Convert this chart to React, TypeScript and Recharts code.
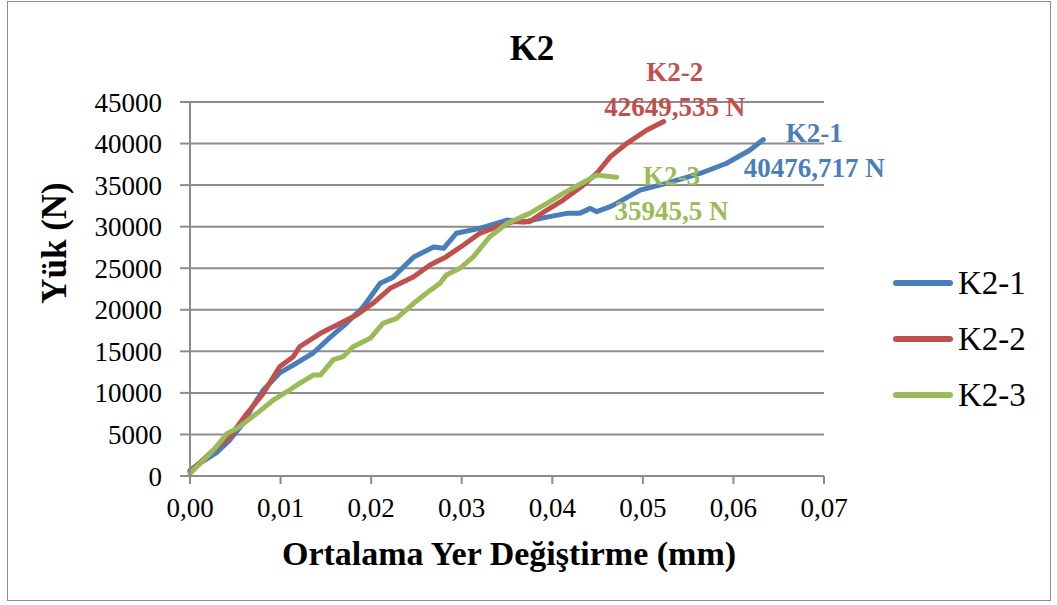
import React from 'react';
import {CartesianGrid, Line, LineChart, XAxis, YAxis} from 'recharts';

const xTicks = [0, 0.01, 0.02, 0.03, 0.04, 0.05, 0.06, 0.07];
const yTicks = [0, 5000, 10000, 15000, 20000, 25000, 30000, 35000, 40000, 45000];

const k21X = [0, 0.0011, 0.0022, 0.0029, 0.0044, 0.0059, 0.007, 0.0081, 0.0099, 0.0118, 0.0136, 0.0155, 0.0173, 0.0191, 0.021, 0.0224, 0.0247, 0.0269, 0.028, 0.0294, 0.032, 0.035, 0.0368, 0.0394, 0.0416, 0.043, 0.0442, 0.0449, 0.0464, 0.0471, 0.0497, 0.0526, 0.0563, 0.0592, 0.0618, 0.0633];
const k21Y = [700, 1560, 2300, 2770, 4330, 6380, 8500, 10350, 12400, 13600, 14800, 16700, 18400, 20300, 23200, 23900, 26350, 27550, 27400, 29200, 29800, 30800, 30550, 31150, 31600, 31600, 32200, 31800, 32400, 32800, 34400, 35200, 36400, 37600, 39200, 40476.717];

const k22X = [0, 0.0026, 0.0044, 0.0063, 0.0081, 0.0099, 0.0114, 0.0121, 0.0144, 0.0166, 0.0184, 0.0202, 0.0221, 0.0247, 0.0265, 0.0283, 0.0302, 0.032, 0.0339, 0.0357, 0.0375, 0.0394, 0.0412, 0.0432, 0.0449, 0.0464, 0.0482, 0.0504, 0.0523];
const k22Y = [500, 3130, 4730, 7540, 9950, 13150, 14350, 15550, 17170, 18370, 19370, 20780, 22580, 23980, 25390, 26390, 27790, 29200, 29990, 30600, 30600, 32000, 33200, 34800, 36400, 38400, 40000, 41600, 42649.535];

const k23X = [0, 0.0026, 0.0041, 0.0052, 0.0074, 0.0092, 0.0107, 0.0121, 0.0136, 0.0144, 0.0158, 0.0169, 0.018, 0.0199, 0.0213, 0.0228, 0.0247, 0.0261, 0.0276, 0.0283, 0.0298, 0.0313, 0.0331, 0.035, 0.0375, 0.0394, 0.0412, 0.0432, 0.0449, 0.0471];
const k23Y = [300, 3130, 5130, 5730, 7540, 9140, 10140, 11150, 12150, 12150, 13960, 14350, 15550, 16560, 18370, 18970, 20780, 21980, 23180, 24180, 24990, 26390, 28790, 30390, 31600, 32800, 34000, 35200, 36200, 35945.5];

const seriesNames = ['K2-1', 'K2-2', 'K2-3'];
const seriesColors = ['#4A7EBB', '#C0504D', '#9BBB59'];
const peakLabels = ['40476,717 N', '42649,535 N', '35945,5 N'];

const toRows = (xs: number[], ys: number[]) => xs.map((x, i) => ({x, y: ys[i]}));
const seriesData = [toRows(k21X, k21Y), toRows(k22X, k22Y), toRows(k23X, k23Y)];

// where the Excel data labels were dragged to, relative to the last point
const labelShift = [
    {dx: 51, dy: -7},
    {dx: 11, dy: -50},
    {dx: 55, dy: -1},
];

const font = "'Liberation Serif', 'Times New Roman', serif";
const gridColor = '#8C8C8C';

const fmt = (v: number) => v.toFixed(2).replace('.', ',');

const makeEndLabel = (s: number) => (props: any) => {
    const {x, y, index} = props;
    if (index !== seriesData[s].length - 1) return null;
    const cx = x + labelShift[s].dx;
    const cy = y + labelShift[s].dy;
    return (
        <g key={`lbl-${s}`}>
            <text x={cx} y={cy} textAnchor="middle" dominantBaseline="central"
                  fontFamily={font} fontWeight="bold" fontSize={27} fill={seriesColors[s]}>
                {seriesNames[s]}
            </text>
            <text x={cx} y={cy + 35} textAnchor="middle" dominantBaseline="central"
                  fontFamily={font} fontWeight="bold" fontSize={27} fill={seriesColors[s]}>
                {peakLabels[s]}
            </text>
        </g>
    );
};

const App = () => {
    return (
        <div style={{position: 'absolute', left: 0, top: 0, width: 1057, height: 605, background: '#fff', fontFamily: font}}>
            <div style={{position: 'absolute', left: 7, top: 1, width: 1042, height: 598, border: '1px solid #8C8C8C'}}/>
            <div style={{position: 'absolute', left: 532, top: 49, transform: 'translate(-50%, -50%)', fontSize: 35, fontWeight: 'bold', whiteSpace: 'nowrap'}}>
                K2
            </div>
            <LineChart
                width={1057}
                height={605}
                margin={{top: 102, right: 233, left: 0, bottom: 99}}
            >
                <CartesianGrid horizontal vertical={false} stroke={gridColor} strokeWidth={2}/>
                <XAxis
                    dataKey="x"
                    type="number"
                    domain={[0, 0.07]}
                    ticks={xTicks}
                    tickFormatter={fmt}
                    height={30}
                    allowDuplicatedCategory={false}
                    stroke={gridColor}
                    strokeWidth={2}
                    tickSize={8}
                    tickMargin={14}
                    tick={{fill: '#000', fontSize: 27, fontFamily: font}}
                />
                <YAxis
                    type="number"
                    domain={[0, 45000]}
                    ticks={yTicks}
                    width={190}
                    stroke={gridColor}
                    strokeWidth={2}
                    tickSize={10}
                    tickMargin={18}
                    tick={{fill: '#000', fontSize: 27, fontFamily: font}}
                />
                {seriesData.map((d, s) => (
                    <Line
                        key={seriesNames[s]}
                        data={d}
                        dataKey="y"
                        name={seriesNames[s]}
                        type="linear"
                        stroke={seriesColors[s]}
                        strokeWidth={5}
                        strokeLinecap="round"
                        strokeLinejoin="round"
                        dot={false}
                        activeDot={false}
                        label={makeEndLabel(s)}
                        isAnimationActive={false}
                    />
                ))}
            </LineChart>
            <div style={{position: 'absolute', left: 55, top: 243, transform: 'translate(-50%, -50%) rotate(-90deg)', whiteSpace: 'nowrap', fontSize: 35, fontWeight: 'bold'}}>
                Yük (N)
            </div>
            <div style={{position: 'absolute', left: 509, top: 554, transform: 'translate(-50%, -50%)', whiteSpace: 'nowrap', fontSize: 34, fontWeight: 'bold'}}>
                Ortalama Yer Değiştirme (mm)
            </div>
            {seriesNames.map((n, s) => (
                <div key={n} style={{position: 'absolute', left: 893, top: 283 + s * 56, transform: 'translateY(-50%)', display: 'flex', alignItems: 'center'}}>
                    <div style={{width: 60, height: 6, borderRadius: 3, background: seriesColors[s]}}/>
                    <span style={{marginLeft: 5, fontSize: 33, lineHeight: '38px'}}>{n}</span>
                </div>
            ))}
        </div>
    );
};

export default App;
